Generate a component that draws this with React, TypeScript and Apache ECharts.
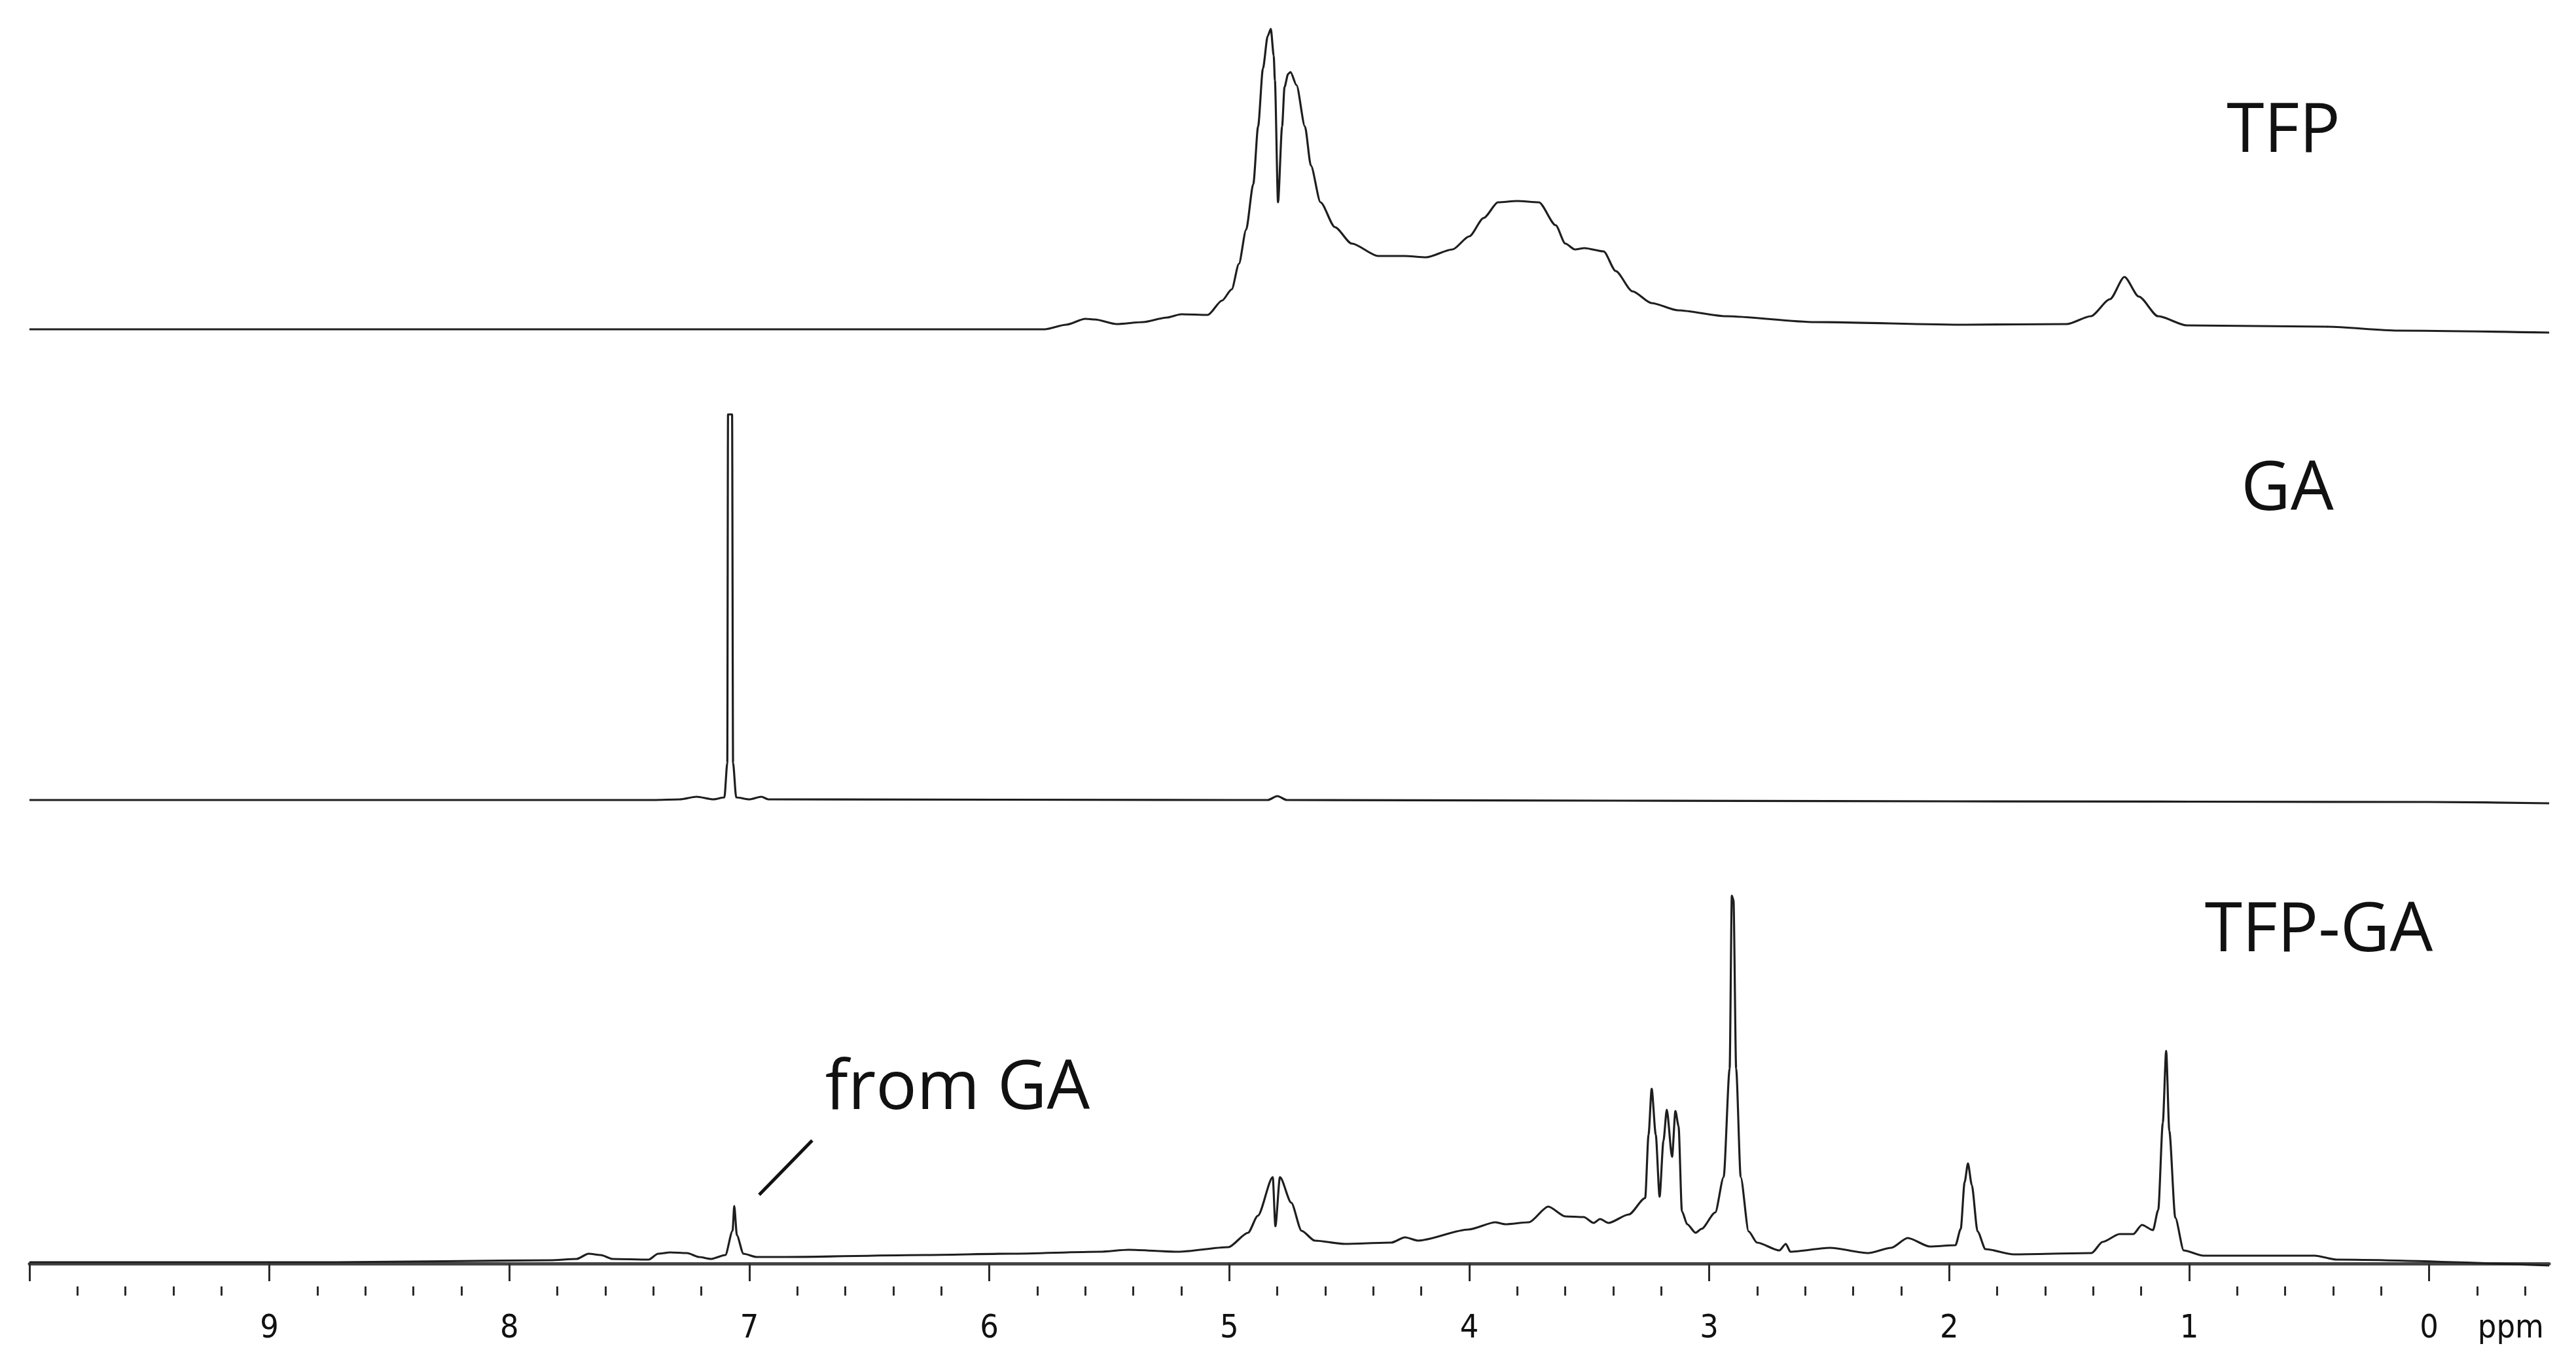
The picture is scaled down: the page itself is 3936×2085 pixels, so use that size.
import React, { useEffect, useRef } from 'react';
import * as echarts from 'echarts';

// Chemical shift axis (ppm), reversed as in NMR plots
const PPM_MIN = -0.5;
const PPM_MAX = 10;
const MAJOR_TICKS = [10, 9, 8, 7, 6, 5, 4, 3, 2, 1, 0];
const MINOR_TICKS = [
  9.8, 9.6, 9.4, 9.2, 8.8, 8.6, 8.4, 8.2, 7.8, 7.6, 7.4, 7.2, 6.8, 6.6, 6.4, 6.2,
  5.8, 5.6, 5.4, 5.2, 4.8, 4.6, 4.4, 4.2, 3.8, 3.6, 3.4, 3.2, 2.8, 2.6, 2.4, 2.2,
  1.8, 1.6, 1.4, 1.2, 0.8, 0.6, 0.4, 0.2, -0.2, -0.4,
];
const LABEL_VALUES = [9, 8, 7, 6, 5, 4, 3, 2, 1, 0, -0.34];
const UNIT_LABEL = 'ppm';

// Spectra: [ppm, intensity]
const TFP: [number, number][] = [
  [10.0, 2], [9.0, 2], [8.0, 2], [7.0, 2], [6.2, 2], [5.77, 2], [5.68, 9], [5.6, 18], [5.56, 17],
  [5.47, 10], [5.36, 13], [5.26, 20], [5.2, 25], [5.09, 24], [5.03, 46], [4.99, 63], [4.96, 102],
  [4.93, 154], [4.9, 224], [4.88, 312], [4.86, 400], [4.84, 450], [4.827, 461], [4.815, 420],
  [4.81, 382], [4.797, 196], [4.78, 312], [4.77, 372], [4.755, 392], [4.745, 395], [4.72, 375],
  [4.685, 312], [4.66, 252], [4.62, 196], [4.56, 158], [4.49, 133], [4.38, 114], [4.27, 114],
  [4.18, 112], [4.07, 124], [4.0, 144], [3.94, 172], [3.88, 196], [3.8, 198], [3.71, 196],
  [3.64, 161], [3.6, 133], [3.56, 124], [3.52, 126], [3.44, 121], [3.39, 91], [3.32, 60],
  [3.24, 42], [3.13, 31], [2.93, 22], [2.56, 13], [1.93, 9], [1.51, 10], [1.41, 22], [1.33, 48],
  [1.27, 82], [1.21, 52], [1.13, 22], [1.01, 8], [0.43, 6], [0.13, 0], [-0.5, -3],
];

const GA: [number, number][] = [
  [10.0, 3], [8.0, 3], [7.4, 3], [7.29, 4], [7.22, 8], [7.15, 4], [7.104, 7], [7.092, 60],
  [7.089, 592], [7.072, 592], [7.068, 60], [7.055, 7], [7.0, 4], [6.95, 8], [6.92, 4], [5.0, 3],
  [4.84, 3], [4.8, 9], [4.76, 3], [2.0, 1], [0.0, 0], [-0.5, -2],
];

const TFP_GA: [number, number][] = [
  [10.0, 2], [8.72, 2], [7.83, 5], [7.72, 7], [7.67, 15], [7.62, 13], [7.57, 7], [7.42, 6],
  [7.38, 15], [7.33, 17], [7.26, 16], [7.21, 10], [7.16, 7], [7.1, 13], [7.07, 50], [7.063, 88],
  [7.052, 43], [7.025, 15], [6.97, 10], [6.85, 10], [6.27, 13], [5.91, 15], [5.54, 18], [5.42, 21],
  [5.214, 18], [5.004, 25], [4.922, 47], [4.881, 73], [4.819, 132], [4.808, 57], [4.789, 132],
  [4.742, 93], [4.699, 50], [4.644, 35], [4.519, 30], [4.325, 32], [4.268, 40], [4.213, 35],
  [4.003, 52], [3.891, 63], [3.85, 60], [3.752, 63], [3.671, 87], [3.6, 72], [3.523, 71],
  [3.482, 62], [3.455, 68], [3.42, 62], [3.335, 75], [3.267, 100], [3.253, 197], [3.24, 267],
  [3.223, 197], [3.207, 102], [3.191, 187], [3.177, 235], [3.155, 163], [3.141, 233], [3.128, 210],
  [3.114, 80], [3.092, 60], [3.057, 47], [3.032, 53], [2.975, 78], [2.94, 132], [2.915, 298],
  [2.906, 562], [2.899, 555], [2.888, 298], [2.869, 132], [2.836, 49], [2.801, 32], [2.708, 20],
  [2.681, 30], [2.662, 18], [2.498, 24], [2.337, 16], [2.242, 24], [2.173, 39], [2.081, 26],
  [1.974, 28], [1.952, 53], [1.936, 124], [1.922, 153], [1.906, 120], [1.882, 49], [1.849, 22],
  [1.732, 14], [1.407, 16], [1.361, 33], [1.29, 45], [1.233, 45], [1.197, 59], [1.151, 51],
  [1.129, 82], [1.11, 215], [1.096, 325], [1.083, 203], [1.058, 70], [1.023, 20], [0.941, 12],
  [0.477, 12], [0.385, 6], [-0.5, -3],
];

const SPECTRUM_NAMES = ['TFP', 'GA', 'TFP-GA'];
const ANNOTATION = 'from GA';

const LINE_COLOR = '#1e1e1e';
const TEXT_FONT = '"Open Sans", "Noto Sans", sans-serif';
const AXIS_FONT = '"Liberation Sans Narrow", "DejaVu Sans Condensed", "Roboto Condensed", "Liberation Sans", sans-serif';

export default function App() {
  const ref = useRef<HTMLDivElement>(null);

  useEffect(() => {
    if (!ref.current) return;
    const chart = echarts.init(ref.current, undefined, { renderer: 'svg' });

    const hiddenX = (gridIndex: number) => ({
      gridIndex,
      type: 'value',
      min: PPM_MIN,
      max: PPM_MAX,
      inverse: true,
      show: false,
    });
    const hiddenY = (gridIndex: number, min: number, max: number) => ({
      gridIndex,
      type: 'value',
      min,
      max,
      show: false,
    });

    const lineSeries = (name: string, idx: number, data: [number, number][]) => ({
      name,
      type: 'line',
      xAxisIndex: idx,
      yAxisIndex: idx,
      data,
      showSymbol: false,
      symbol: 'none',
      smooth: 0.25,
      smoothMonotone: 'x',
      lineStyle: { color: LINE_COLOR, width: 3.2 },
      silent: true,
    });

    const option: any = {
      animation: false,
      backgroundColor: '#ffffff',
      grid: [
        { left: 45, right: 41, top: 35, height: 490 },
        { left: 45, right: 41, top: 625, height: 620 },
        { left: 45, right: 41, top: 1360, height: 605 },
      ],
      xAxis: [
        hiddenX(0),
        hiddenX(1),
        {
          gridIndex: 2,
          type: 'value',
          min: PPM_MIN,
          max: PPM_MAX,
          inverse: true,
          position: 'bottom',
          axisLine: { show: true, lineStyle: { color: '#444', width: 5 } },
          axisTick: {
            show: true,
            customValues: MAJOR_TICKS,
            length: 27,
            lineStyle: { color: '#2a2a2a', width: 3 },
          },
          axisLabel: {
            show: true,
            customValues: LABEL_VALUES,
            formatter: (v: number) => (v < 0 ? UNIT_LABEL : String(Math.round(v))),
            fontSize: 50,
            fontWeight: 'normal',
            fontFamily: AXIS_FONT,
            color: '#111',
            margin: 36,
          },
          splitLine: { show: false },
        },
        {
          gridIndex: 2,
          type: 'value',
          min: PPM_MIN,
          max: PPM_MAX,
          inverse: true,
          position: 'bottom',
          offset: 0,
          axisLine: { show: false },
          axisTick: {
            show: true,
            customValues: MINOR_TICKS,
            length: 14,
            lineStyle: { color: '#2a2a2a', width: 3 },
          },
          axisLabel: { show: false },
          splitLine: { show: false },
        },
      ],
      yAxis: [hiddenY(0, -20, 470), hiddenY(1, -20, 600), hiddenY(2, -35, 570)],
      series: [
        lineSeries(SPECTRUM_NAMES[0], 0, TFP),
        lineSeries(SPECTRUM_NAMES[1], 1, GA),
        lineSeries(SPECTRUM_NAMES[2], 2, TFP_GA),
      ],
      graphic: [
        {
          type: 'text',
          x: 3489,
          y: 191,
          style: {
            text: SPECTRUM_NAMES[0],
            font: `104px ${TEXT_FONT}`,
            fill: '#111',
            align: 'center',
            verticalAlign: 'middle',
          },
        },
        {
          type: 'text',
          x: 3495,
          y: 738,
          style: {
            text: SPECTRUM_NAMES[1],
            font: `104px ${TEXT_FONT}`,
            fill: '#111',
            align: 'center',
            verticalAlign: 'middle',
          },
        },
        {
          type: 'text',
          x: 3543,
          y: 1412,
          style: {
            text: SPECTRUM_NAMES[2],
            font: `104px ${TEXT_FONT}`,
            fill: '#111',
            align: 'center',
            verticalAlign: 'middle',
          },
        },
        {
          type: 'text',
          x: 1463,
          y: 1653,
          style: {
            text: ANNOTATION,
            font: `104px ${TEXT_FONT}`,
            fill: '#111',
            align: 'center',
            verticalAlign: 'middle',
          },
        },
        {
          type: 'line',
          shape: { x1: 1160, y1: 1825, x2: 1241, y2: 1742 },
          style: { stroke: '#111', lineWidth: 5 },
        },
      ],
    };

    chart.setOption(option);
    return () => chart.dispose();
  }, []);

  return (
    <div
      ref={ref}
      style={{ position: 'absolute', left: 0, top: 0, width: 3936, height: 2085, background: '#fff' }}
    />
  );
}
